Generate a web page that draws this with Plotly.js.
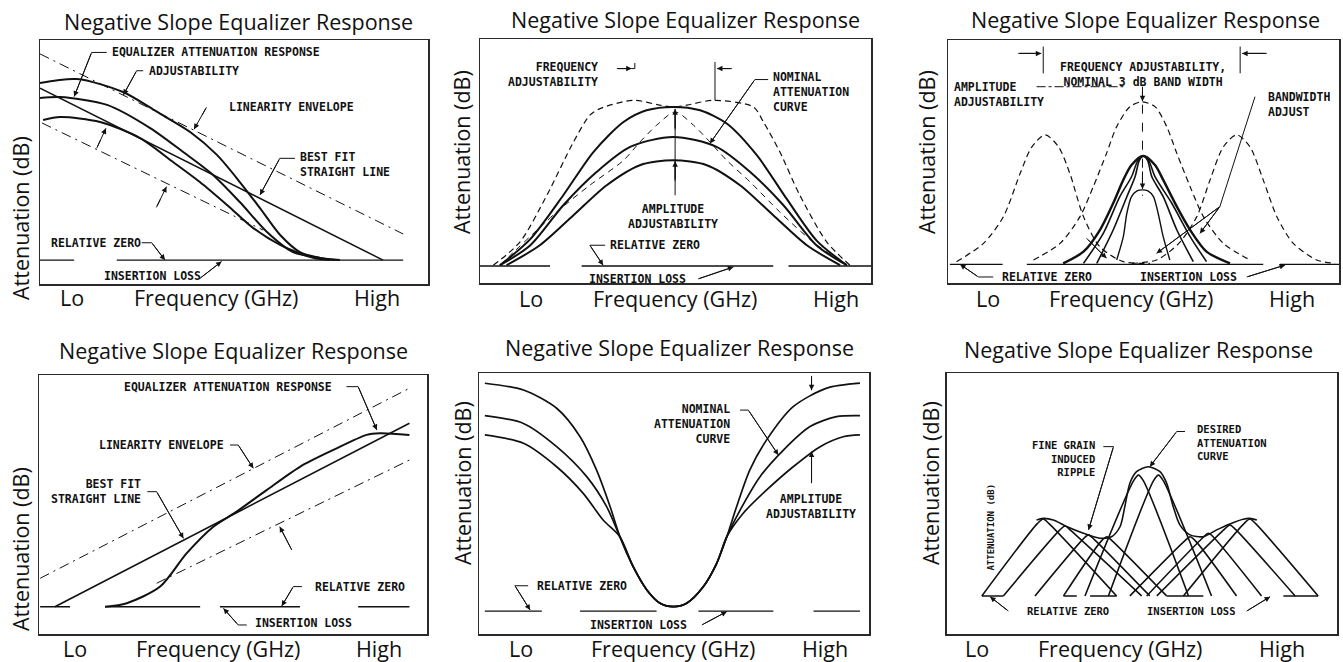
<!DOCTYPE html>
<html><head><meta charset="utf-8">
<script src="https://cdn.plot.ly/plotly-3.0.1.min.js"></script>
<style>html,body{margin:0;padding:0;background:#fff}#chart{width:1343px;height:662px}</style>
</head><body><div id="chart"></div>
<script>
// ---------- DATA (axis units 0-100, Lo..High / relative attenuation) ----------
const tickLabels = ['Lo', 'Frequency (GHz)', 'High'];
const panelTitle = 'Negative Slope Equalizer Response';
const yTitle = 'Attenuation (dB)';

// Panel 1 : negative slope, S-curves
const p1_top_x = [0, 9.5, 21.4, 30.2, 38.7, 45.6, 51.5, 56.7, 61.9, 67.0, 72.2, 77.3];
const p1_top_y = [82.4, 84.0, 78.7, 70.5, 62.3, 52.9, 41.8, 31.1, 20.1, 13.1, 10.7, 9.8];
const p1_mid_x = [0, 5.2, 17.3, 28.4, 36.9, 44.6, 51.5, 58.5, 65.2, 72.2, 76.0];
const p1_mid_y = [76.2, 76.6, 73.4, 63.9, 54.1, 44.7, 33.6, 21.3, 13.1, 10.7, 9.8];
const p1_bot_x = [0.8, 5.2, 15.5, 25.8, 34.3, 41.2, 48.2, 54.9, 61.9, 70.4, 74.7];
const p1_bot_y = [67.2, 68.4, 66.4, 59.8, 50.0, 41.8, 32.4, 23.0, 16.0, 10.7, 9.8];
const p1_fit_x = [0, 88.4];      const p1_fit_y = [80.3, 9.8];
const p1_envU_x = [0, 93.6];     const p1_envU_y = [94.3, 20.5];
const p1_envL_x = [0.5, 57.5];   const p1_envL_y = [66.0, 22.1];
const p1_zero_x = [0, 8.8, null, 19.8, 93.6];
const p1_zero_y = [9.8, 9.8, null, 9.8, 9.8];

// Panel 2 : band-pass hump
const p2_top_x = [5.1, 12.8, 21.3, 29.0, 36.7, 42.6, 49.4, 56.3, 63.1, 70.8, 78.4, 86.1, 93.8];
const p2_top_y = [7.4, 18.0, 36.1, 53.8, 66.1, 70.9, 72.3, 70.9, 65.5, 52.5, 34.7, 17.5, 7.4];
const p2_mid_x = [5.1, 12.8, 21.3, 29.8, 38.4, 49.4, 60.5, 69.1, 77.6, 86.1, 93.8];
const p2_mid_y = [7.4, 15.5, 32.0, 45.6, 55.9, 60.0, 55.9, 45.6, 32.0, 15.5, 7.4];
const p2_bot_x = [6.8, 15.3, 23.9, 32.4, 40.9, 49.4, 58.0, 66.5, 75.0, 83.6, 92.1];
const p2_bot_y = [7.4, 15.6, 27.9, 40.2, 48.4, 50.4, 48.4, 40.2, 27.9, 15.6, 7.4];
const p2_outer_x = [3.4, 10.2, 17.1, 23.9, 28.1, 30.7, 39.2, 46.0, 49.4, 52.9, 59.7, 69.9, 72.5, 76.7, 81.8, 88.7, 94.6];
const p2_outer_y = [7.4, 16.9, 36.1, 57.9, 68.9, 71.6, 75.0, 73.0, 72.3, 73.0, 75.0, 72.3, 66.1, 53.8, 36.1, 16.9, 7.4];
const p2_inner_x = [5.1, 19.6, 28.1, 36.7, 40.9, 45.2, 49.9, 54.6, 58.8, 63.1, 69.1, 76.7, 85.2, 93.8];
const p2_inner_y = [7.4, 29.2, 40.2, 50.4, 57.9, 64.8, 70.2, 64.8, 57.9, 50.4, 41.5, 29.2, 16.9, 7.4];
const p2_zero_x = [0, 17.9, null, 26.0, 75.0, null, 78.9, 100];
const p2_zero_y = [7.1, 7.1, null, 7.1, 7.1, null, 7.1, 7.1];

// Panel 3 : band-pass bells
const p3_left_x = [2.1, 9.0, 14.1, 18.4, 21.4, 24.8, 28.2, 31.1, 34.6, 38.8, 44.8, 51.6];
const p3_left_y = [8.9, 16.4, 27.4, 45.2, 56.1, 61.0, 56.1, 45.2, 27.4, 15.0, 8.9, 8.2];
const p3_tall_x = [21.8, 28.6, 33.7, 37.1, 40.5, 43.1, 46.5, 49.5, 52.9, 55.9, 58.5, 61.9, 65.3, 70.4, 77.2];
const p3_tall_y = [9.6, 16.4, 27.4, 39.7, 53.4, 64.4, 72.6, 74.6, 72.6, 64.4, 53.4, 39.7, 27.4, 16.4, 9.6];
const p3_right_x = [47.0, 53.3, 59.0, 63.6, 67.0, 70.4, 73.8, 77.2, 80.6, 84.1, 88.3, 94.3, 99.0];
const p3_right_y = [8.2, 9.6, 16.4, 27.4, 42.5, 56.1, 61.0, 56.1, 42.5, 27.4, 16.4, 9.6, 8.2];
const p3_A_x = [29.4, 34.6, 38.8, 42.2, 44.8, 46.9, 49.9, 52.9, 55.0, 58.5, 61.9, 66.1, 72.1];
const p3_A_y = [8.2, 13.0, 21.9, 32.9, 42.5, 48.6, 52.3, 48.6, 42.5, 31.5, 21.9, 13.0, 8.2];
const p3_B_x = [34.6, 39.7, 43.9, 46.9, 48.4, 49.9, 51.4, 52.9, 57.2, 61.9, 66.1];
const p3_B_y = [8.2, 20.6, 35.6, 43.8, 50.0, 52.3, 50.0, 43.8, 32.9, 19.2, 8.9];
const p3_C_x = [38.0, 42.2, 45.7, 47.8, 48.9, 49.9, 51.0, 52.1, 55.0, 58.5, 62.7];
const p3_C_y = [8.2, 21.9, 35.6, 43.8, 50.5, 52.3, 50.5, 43.8, 35.6, 21.9, 8.9];
const p3_D_x = [43.1, 44.8, 45.7, 46.9, 48.3, 49.7, 51.1, 52.5, 53.7, 55.0, 56.7];
const p3_D_y = [9.6, 19.2, 28.8, 35.6, 38.0, 38.4, 38.0, 35.6, 28.8, 19.2, 9.6];
const p3_zero_x = [0.4, 13.9, null, 20.1, 80.6, null, 84.9, 100];
const p3_zero_y = [7.8, 7.8, null, 7.8, 7.8, null, 7.8, 7.8];

// Panel 4 : positive slope
const p4_envU_x = [0.3, 95.4];  const p4_envU_y = [21.6, 94.9];
const p4_envL_x = [30.3, 95.4]; const p4_envL_y = [19.7, 67.2];
const p4_fit_x = [4.1, 95.4];   const p4_fit_y = [10.6, 81.4];
const p4_s_x = [17.0, 22.6, 31.2, 38.0, 44.9, 50.9, 58.6, 67.2, 75.8, 84.4, 87.8, 95.4];
const p4_s_y = [10.6, 12.0, 18.4, 31.2, 41.5, 47.3, 55.6, 64.6, 71.1, 76.9, 77.5, 76.9];
const p4_zero_x = [0.3, 8.0, null, 17.0, 41.5, null, 46.6, 67.2, null, 82.2, 95.4];
const p4_zero_y = [10.6, 10.6, null, 10.6, 10.6, null, 10.6, 10.6, null, 10.6, 10.6];

// Panel 5 : notch
const p5_top_x = [1.5, 11.4, 19.9, 25.9, 30.1, 33.6, 36.1, 39.5, 43.0, 46.4, 49.8, 53.2, 57.5, 60.9, 63.5, 66.0, 69.4, 73.7, 80.5, 89.1, 97.6];
const p5_top_y = [96.2, 93.6, 86.6, 75.7, 63.0, 48.9, 37.4, 25.9, 17.0, 11.9, 10.6, 11.9, 18.3, 27.2, 37.4, 48.9, 63.0, 74.5, 87.2, 94.3, 96.2];
const p5_mid_x = [1.5, 11.4, 19.9, 27.6, 32.7, 36.1, 39.5, 43.0, 46.4, 49.8, 53.2, 57.5, 60.9, 63.5, 66.9, 72.0, 78.0, 84.8, 91.6, 97.6];
const p5_mid_y = [83.8, 80.8, 71.9, 60.4, 48.9, 37.4, 25.9, 17.0, 11.9, 10.6, 11.9, 18.3, 27.2, 37.4, 47.6, 60.4, 70.6, 79.6, 83.4, 83.8];
const p5_bot_x = [1.5, 11.4, 19.9, 26.7, 31.8, 36.1, 39.5, 43.0, 46.4, 49.8, 53.2, 57.5, 60.9, 63.5, 67.7, 73.7, 80.5, 87.4, 93.3, 97.6];
const p5_bot_y = [76.4, 73.2, 64.2, 54.0, 43.8, 37.4, 25.9, 17.0, 11.9, 10.6, 11.9, 18.3, 27.2, 37.4, 46.4, 55.3, 64.2, 71.9, 75.7, 76.4];
const p5_zero_x = [1.5, 16.1, null, 25.9, 45.5, null, 56.2, 75.4, null, 85.7, 97.6];
const p5_zero_y = [8.9, 8.9, null, 8.9, 8.9, null, 8.9, 8.9, null, 8.9, 8.9];

// Panel 6 : fine grain sections
const p6_L1_x = [9.0, 23.2, 24.7, 26.2, 43.5];  const p6_L1_y = [14.7, 42.4, 44.2, 42.4, 14.7];
const p6_L2_x = [14.5, 28.8, 30.3, 31.8, 49.9]; const p6_L2_y = [14.7, 39.7, 41.5, 39.7, 14.7];
const p6_L3_x = [22.6, 34.8, 36.3, 37.8, 52.0]; const p6_L3_y = [14.7, 36.3, 38.1, 36.3, 14.7];
const p6_L4_x = [29.9, 39.5, 41.0, 42.5, 56.3]; const p6_L4_y = [14.7, 35.6, 37.4, 35.6, 14.7];
const p6_C1_x = [35.4, 47.9, 49.1, 50.3, 61.9]; const p6_C1_y = [14.7, 59.0, 61.0, 59.0, 14.7];
const p6_C2_x = [41.4, 53.0, 54.2, 55.4, 67.8]; const p6_C2_y = [14.7, 59.0, 61.0, 59.0, 14.7];
const p6_R4_x = [46.9, 60.8, 62.3, 63.8, 74.2]; const p6_R4_y = [14.7, 35.6, 37.4, 35.6, 14.7];
const p6_R3_x = [51.2, 65.5, 67.0, 68.5, 80.6]; const p6_R3_y = [14.7, 36.9, 38.7, 36.9, 14.7];
const p6_R2_x = [53.8, 71.0, 72.5, 74.0, 89.2]; const p6_R2_y = [14.7, 40.1, 41.9, 40.1, 14.7];
const p6_R1_x = [60.6, 76.1, 77.6, 79.1, 95.1]; const p6_R1_y = [14.7, 42.4, 44.2, 42.4, 14.7];
const p6_env_x = [23.0, 24.7, 27.3, 30.7, 35.0, 39.2, 42.2, 44.4, 45.6, 46.9, 48.6, 51.6, 54.6, 56.3, 58.0, 59.7, 62.3, 65.7, 69.1, 72.5, 75.9, 77.6, 79.4];
const p6_env_y = [43.8, 44.4, 43.8, 41.3, 38.7, 36.8, 37.4, 41.3, 48.9, 57.9, 62.3, 64.2, 62.3, 57.9, 48.9, 41.9, 38.1, 37.4, 40.0, 42.3, 44.1, 44.4, 43.8];
const p6_zero_x = [9.0, 14.5, null, 29.9, 33.3, null, 36.7, 43.5, null, 56.3, 65.7, null, 86.2, 95.1];
const p6_zero_y = [14.7, 14.7, null, 14.7, 14.7, null, 14.7, 14.7, null, 14.7, 14.7, null, 14.7, 14.7];

// ---------- BUILD ----------
const INK = '#111';
const ax = n => (n === 1 ? 'x' : 'x' + n);
const ay = n => (n === 1 ? 'y' : 'y' + n);
function ln(n, x, y, o) {
  return {type: 'scatter', mode: 'lines', x: x, y: y, xaxis: ax(n), yaxis: ay(n),
    line: Object.assign({color: INK, width: 1.6, shape: 'spline', smoothing: 0.8}, o || {}),
    hoverinfo: 'skip', showlegend: false, connectgaps: false};
}
const STR = {shape: 'linear'};
const ENV = {shape: 'linear', width: 1, dash: '10px,5px,2px,5px'};
const DSH = {width: 1.2, dash: '6px,4px'};

const traces = [
  ln(1, p1_envU_x, p1_envU_y, ENV), ln(1, p1_envL_x, p1_envL_y, ENV),
  ln(1, p1_fit_x, p1_fit_y, Object.assign({width: 1.5}, STR)),
  ln(1, p1_top_x, p1_top_y, {width: 2}), ln(1, p1_mid_x, p1_mid_y, {width: 2}), ln(1, p1_bot_x, p1_bot_y, {width: 2}),
  ln(1, p1_zero_x, p1_zero_y, Object.assign({width: 1.3}, STR)),

  ln(2, p2_outer_x, p2_outer_y, DSH), ln(2, p2_inner_x, p2_inner_y, {width: 1, dash: '6px,5px'}),
  ln(2, p2_top_x, p2_top_y, {width: 2}), ln(2, p2_mid_x, p2_mid_y, {width: 2}), ln(2, p2_bot_x, p2_bot_y, {width: 2}),
  ln(2, p2_zero_x, p2_zero_y, Object.assign({width: 1.3}, STR)),

  ln(3, p3_left_x, p3_left_y, DSH), ln(3, p3_tall_x, p3_tall_y, DSH), ln(3, p3_right_x, p3_right_y, DSH),
  ln(3, p3_A_x, p3_A_y, {width: 2.4}), ln(3, p3_B_x, p3_B_y, {width: 1.6}), ln(3, p3_C_x, p3_C_y, {width: 1.6}),
  ln(3, p3_D_x, p3_D_y, {width: 1.4}),
  ln(3, p3_zero_x, p3_zero_y, Object.assign({width: 1.3}, STR)),

  ln(4, p4_envU_x, p4_envU_y, ENV), ln(4, p4_envL_x, p4_envL_y, ENV),
  ln(4, p4_fit_x, p4_fit_y, Object.assign({width: 1.6}, STR)),
  ln(4, p4_s_x, p4_s_y, {width: 2}),
  ln(4, p4_zero_x, p4_zero_y, Object.assign({width: 1.5}, STR)),

  ln(5, p5_top_x, p5_top_y, {width: 1.7}), ln(5, p5_mid_x, p5_mid_y, {width: 1.7}), ln(5, p5_bot_x, p5_bot_y, {width: 1.7}),
  ln(5, p5_zero_x, p5_zero_y, Object.assign({width: 1.3}, STR)),

  ln(6, p6_L1_x, p6_L1_y), ln(6, p6_L2_x, p6_L2_y), ln(6, p6_L3_x, p6_L3_y), ln(6, p6_L4_x, p6_L4_y),
  ln(6, p6_C1_x, p6_C1_y), ln(6, p6_C2_x, p6_C2_y),
  ln(6, p6_R4_x, p6_R4_y), ln(6, p6_R3_x, p6_R3_y), ln(6, p6_R2_x, p6_R2_y), ln(6, p6_R1_x, p6_R1_y),
  ln(6, p6_env_x, p6_env_y, {width: 1.6}),
  ln(6, p6_zero_x, p6_zero_y, Object.assign({width: 1.5}, STR))
];

// ---------- LAYOUT ----------
const W = 1343, H = 662;
const frames = [ // left, right, top, bottom (px)
  [40, 428, 40, 284], [480, 871, 39.3, 283.3], [948.3, 1339, 40, 283.3],
  [39, 427.3, 375, 634.3], [479, 869.3, 373.3, 634.3], [946.7, 1337.3, 373.3, 634.3]
];
const tickPos = [[8.2, 45.4, 86.9], [13.0, 49.9, 91.0], [10.2, 46.8, 87.9],
                 [9.3, 46.1, 87.6], [10.8, 49.7, 88.6], [7.8, 44.4, 85.8]];
const tickRowY = [297, 298, 298, 648, 648, 648];
const titlePos = [[238, 21], [685, 20], [1145, 20], [233, 350], [679, 348], [1138, 349]];
const yTitlePos = [[20, 218], [462, 152], [927, 152], [20, 549], [462, 483], [930, 483]];
const SANS = 'Open Sans, Noto Sans, sans-serif';
const MONO = 'DejaVu Sans Mono, monospace';
const BIG = 21.5;

const layout = {width: W, height: H, margin: {l: 0, r: 0, t: 0, b: 0},
  paper_bgcolor: '#fff', plot_bgcolor: '#fff', showlegend: false, annotations: [], shapes: []};

frames.forEach((f, i) => {
  const n = i + 1;
  const xk = n === 1 ? 'xaxis' : 'xaxis' + n, yk = n === 1 ? 'yaxis' : 'yaxis' + n;
  const common = {range: [0, 100], showgrid: false, zeroline: false, showline: true, mirror: true,
    linecolor: '#2a2a2a', linewidth: 1.5, ticks: '', fixedrange: true, showticklabels: false};
  layout[xk] = Object.assign({}, common, {domain: [f[0] / W, f[1] / W], anchor: ay(n)});
  layout[yk] = Object.assign({}, common, {domain: [1 - f[3] / H, 1 - f[2] / H], anchor: ax(n)});
  // x-axis labels placed on the axis scale
  tickLabels.forEach((t, k) => {
    layout.annotations.push({xref: ax(n), yref: 'paper', x: tickPos[i][k], y: 1 - tickRowY[i] / H,
      xanchor: 'center', yanchor: 'middle', showarrow: false, text: t,
      font: {family: SANS, size: BIG, color: INK}});
  });
  layout.annotations.push({xref: 'paper', yref: 'paper', x: titlePos[i][0] / W, y: 1 - titlePos[i][1] / H,
    xanchor: 'center', yanchor: 'middle', showarrow: false, text: panelTitle, font: {family: SANS, size: BIG, color: INK}});
  layout.annotations.push({xref: 'paper', yref: 'paper', x: yTitlePos[i][0] / W, y: 1 - yTitlePos[i][1] / H,
    xanchor: 'center', yanchor: 'middle', showarrow: false, textangle: -90, text: yTitle,
    font: {family: SANS, size: BIG, color: INK}});
});

function L(n, x, y, text, anchor, size) {
  anchor = anchor || 'left';
  layout.annotations.push({xref: ax(n), yref: ay(n), x: x, y: y, text: text, showarrow: false,
    xanchor: anchor, yanchor: 'middle', align: anchor,
    font: {family: MONO, size: size || 11.5, color: INK, weight: 'bold'}});
}
function lead(n, pts, head, dash) {
  let d = 'M ' + pts[0][0] + ',' + pts[0][1];
  for (let k = 1; k < pts.length; k++) d += ' L ' + pts[k][0] + ',' + pts[k][1];
  layout.shapes.push({type: 'path', xref: ax(n), yref: ay(n), path: d,
    line: {color: INK, width: 1, dash: dash || 'solid'}});
  if (head) {
    const a = pts[pts.length - 2], b = pts[pts.length - 1];
    layout.annotations.push({xref: ax(n), yref: ay(n), axref: ax(n), ayref: ay(n),
      x: b[0], y: b[1], ax: a[0], ay: a[1], text: '', showarrow: true,
      arrowhead: 2, arrowsize: 1.1, arrowwidth: 1, arrowcolor: INK});
  }
}

// Panel 1
L(1, 18.0, 94.9, 'EQUALIZER ATTENUATION RESPONSE');
L(1, 27.5, 87.4, 'ADJUSTABILITY');
L(1, 48.1, 72.7, 'LINEARITY ENVELOPE');
L(1, 66.5, 48.8, 'BEST FIT<br>STRAIGHT LINE');
L(1, 2.4, 16.9, 'RELATIVE ZERO');
L(1, 16.1, 3.3, 'INSERTION LOSS');
lead(1, [[17.2, 94.9], [13.3, 94.9], [8.8, 76.8]], true);
lead(1, [[26.6, 87.4], [24.9, 87.4], [21.5, 77.5]], true);
lead(1, [[42.9, 72.4], [39.7, 63.4]], true, 'dash');
lead(1, [[14.6, 55.6], [17.0, 63.8]], true, 'dash');
lead(1, [[30.0, 31.4], [32.6, 39.9]], true, 'dash');
lead(1, [[65.7, 51.5], [61.8, 51.5], [56.7, 36.5]], true);
lead(1, [[26.2, 16.9], [28.8, 16.9], [32.2, 9.8]], true);
lead(1, [[41.2, 2.3], [46.8, 9.2]], true);

// Panel 2
L(2, 30.7, 85.7, 'FREQUENCY<br>ADJUSTABILITY', 'right');
L(2, 74.4, 78.4, 'NOMINAL<br>ATTENUATION<br>CURVE');
L(2, 49.4, 27.5, 'AMPLITUDE<br>ADJUSTABILITY', 'center');
L(2, 32.8, 15.6, 'RELATIVE ZERO');
L(2, 27.3, 1.8, 'INSERTION LOSS');
lead(2, [[35.0, 88.0], [38.8, 88.0]], true);
lead(2, [[38.8, 88.0], [39.6, 88.0], [39.6, 90.3]], false);
lead(2, [[60.1, 75.0], [60.1, 90.7]], false);
lead(2, [[64.4, 88.0], [60.6, 88.0]], true);
lead(2, [[73.7, 83.5], [70.3, 83.5], [58.8, 57.3]], true);
lead(2, [[32.0, 15.6], [28.1, 15.6], [31.5, 7.4]], true);
lead(2, [[55.8, 1.8], [64.8, 6.7]], true);
lead(2, [[49.9, 36.1], [49.9, 71.5]], false);
lead(2, [[49.9, 63], [49.9, 71.3]], true);
lead(2, [[49.9, 42], [49.9, 50.0]], true);

// Panel 3
L(3, 49.9, 86.0, 'FREQUENCY ADJUSTABILITY,<br>NOMINAL 3 dB BAND WIDTH', 'center');
L(3, 0.9, 77.7, 'AMPLITUDE<br>ADJUSTABILITY');
L(3, 81.3, 73.6, 'BANDWIDTH<br>ADJUST');
L(3, 13.2, 2.6, 'RELATIVE ZERO');
L(3, 48.6, 2.6, 'INSERTION LOSS');
lead(3, [[24.3, 86.3], [24.3, 97.3]], false);
lead(3, [[74.7, 86.3], [74.7, 97.3]], false);
lead(3, [[17.9, 94.5], [23.8, 94.5]], true);
lead(3, [[81.5, 94.5], [75.2, 94.5]], true);
lead(3, [[22.6, 80.8], [44.8, 80.8]], false, 'dashdot');
lead(3, [[49.7, 80.8], [49.7, 36.0]], false, 'dash');
lead(3, [[49.7, 46], [49.7, 38.8]], true);
lead(3, [[49.7, 79], [49.7, 74.8]], true);
lead(3, [[78.5, 76.7], [69.5, 31.5], [64.4, 20.5]], true);
lead(3, [[69.5, 31.5], [53.3, 12.3]], true);
lead(3, [[35.4, 18.5], [40.5, 10.3]], true);
lead(3, [[11.5, 2.6], [7.7, 2.6], [3.0, 7.8]], true);
lead(3, [[76.4, 2.6], [86.2, 7.5]], true);

// Panel 4
L(4, 21.3, 95.5, 'EQUALIZER ATTENUATION RESPONSE');
L(4, 14.9, 73.0, 'LINEARITY ENVELOPE');
L(4, 26.9, 55.0, 'BEST FIT<br>STRAIGHT LINE', 'right');
L(4, 70.6, 18.4, 'RELATIVE ZERO');
L(4, 55.2, 4.2, 'INSERTION LOSS');
lead(4, [[79.2, 95.5], [82.2, 95.5], [87.0, 78.8]], true);
lead(4, [[49.2, 73.0], [51.3, 73.0], [55.2, 64.0]], true);
lead(4, [[65.1, 32.5], [62.0, 41.5]], true);
lead(4, [[27.9, 55.0], [30.3, 55.0], [37.2, 37.0]], true);
lead(4, [[67.7, 18.4], [65.5, 18.4], [62.5, 10.9]], true);
lead(4, [[53.5, 3.6], [51.3, 3.6], [47.5, 10.0]], true);

// Panel 5
L(5, 64.7, 80.6, 'NOMINAL<br>ATTENUATION<br>CURVE', 'right');
L(5, 85.0, 48.9, 'AMPLITUDE<br>ADJUSTABILITY', 'center');
L(5, 14.3, 18.6, 'RELATIVE ZERO');
L(5, 27.8, 3.6, 'INSERTION LOSS');
lead(5, [[66.9, 85.9], [69.0, 85.9], [76.7, 68.7]], true);
lead(5, [[85.2, 57.9], [85.2, 70.0]], true);
lead(5, [[85.2, 99], [85.2, 93.5]], true);
lead(5, [[12.6, 18.6], [9.2, 18.6], [13.1, 9.3]], true);
lead(5, [[57.1, 3.6], [63.5, 8.7]], true);

// Panel 6
L(6, 38.4, 67.4, 'FINE GRAIN<br>INDUCED<br>RIPPLE', 'right', 10.5);
L(6, 63.6, 73.4, 'DESIRED<br>ATTENUATION<br>CURVE', 'left', 10.5);
L(6, 20.1, 8.9, 'RELATIVE ZERO', 'left', 10.5);
L(6, 50.8, 8.9, 'INSERTION LOSS', 'left', 10.5);
layout.annotations.push({xref: 'x6', yref: 'y6', x: 11.1, y: 40.9, text: 'ATTENUATION (dB)', showarrow: false,
  textangle: -90, font: {family: MONO, size: 9, color: INK, weight: 'bold'}});
lead(6, [[40.1, 71.9], [42.7, 71.9], [36.3, 40.0]], true);
lead(6, [[61.0, 77.7], [58.9, 77.7], [52.0, 64.2]], true);
lead(6, [[15.8, 8.9], [11.1, 14.4]], true);
lead(6, [[76.8, 8.9], [82.8, 14.4]], true);

Plotly.newPlot('chart', traces, layout, {displayModeBar: false, staticPlot: true});
</script></body></html>
